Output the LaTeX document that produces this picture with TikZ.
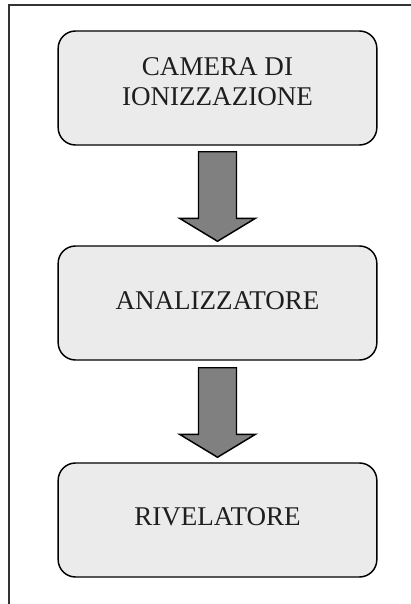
\documentclass[tikz,border=0pt]{standalone}
\usepackage{fontspec}
\setmainfont{Liberation Serif}
\usetikzlibrary{calc}
\definecolor{boxfill}{HTML}{EBEBEB}
\definecolor{arrowfill}{HTML}{808080}
\definecolor{textcol}{HTML}{1E1E1E}
\begin{document}
\begin{tikzpicture}[x=0.75pt, y=-0.75pt,
  stagebox/.style={draw=black, line width=1.1pt, fill=boxfill, rounded corners=13pt,
    minimum width=239pt, minimum height=85.5pt, inner sep=0pt},
  stagelabel/.style={align=center, text=textcol, inner sep=0pt,
    font=\fontsize{20.3}{22.5}\selectfont},
  flowarrow/.style={draw=black, line width=1.1pt, fill=arrowfill, line join=miter},
  framerule/.style={line width=1pt, draw=black!80}]
  \useasboundingbox (0,0) rectangle (411,604);

  % outer frame (only its top and left sides fall inside the page)
  \coordinate (fbl) at (9,610);
  \coordinate (ftl) at (9,5);
  \coordinate (ftr) at (415,5);
  \draw[framerule] (fbl) -- (ftl) -- (ftr);

  % the three stages
  \node[stagebox] (camera) at (217.5,88) {};
  \node[stagebox] (analizzatore) at (217.5,303) {};
  \node[stagebox] (rivelatore) at (217.5,520) {};

  \node[stagelabel] (cameratext) at ($(camera.center)+(0,-6)$) {CAMERA DI\\IONIZZAZIONE};
  \node[stagelabel] (analizzatoretext) at ($(analizzatore.center)+(0,-2)$) {ANALIZZATORE};
  \node[stagelabel] (rivelatoretext) at ($(rivelatore.center)+(0,-3.5)$) {RIVELATORE};

  % block arrows between consecutive stages
  \draw[flowarrow] ($(camera.south)+(-19,6)$) -- ($(camera.south)+(19,6)$)
    -- ($(analizzatore.north)+(19,-27)$) -- ($(analizzatore.north)+(38,-27)$)
    -- ($(analizzatore.north)+(0,-4)$) -- ($(analizzatore.north)+(-38,-27)$)
    -- ($(analizzatore.north)+(-19,-27)$) -- cycle;
  \draw[flowarrow] ($(analizzatore.south)+(-19,7)$) -- ($(analizzatore.south)+(19,7)$)
    -- ($(rivelatore.north)+(19,-28)$) -- ($(rivelatore.north)+(38,-28)$)
    -- ($(rivelatore.north)+(0,-5)$) -- ($(rivelatore.north)+(-38,-28)$)
    -- ($(rivelatore.north)+(-19,-28)$) -- cycle;
\end{tikzpicture}
\end{document}
